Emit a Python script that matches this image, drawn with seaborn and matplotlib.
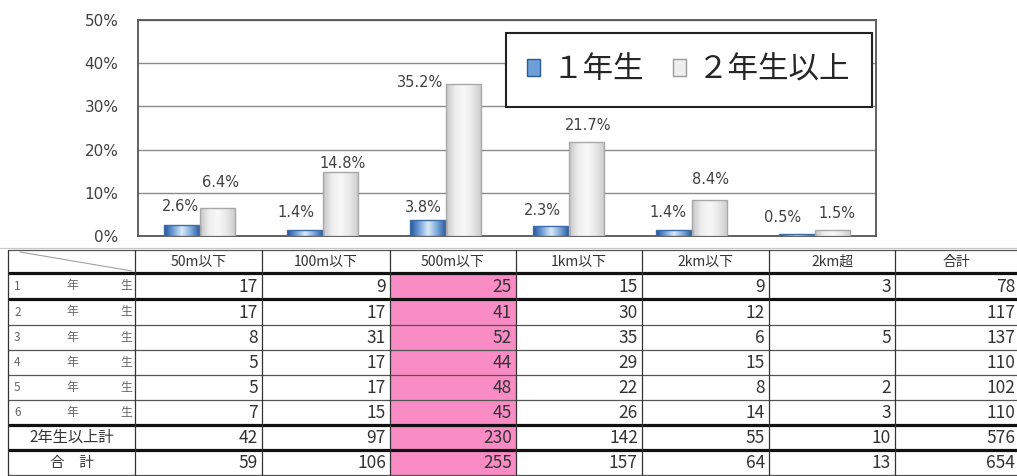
import numpy as np
import pandas as pd
import matplotlib
matplotlib.use("Agg")
import matplotlib.pyplot as plt
import seaborn as sns
from matplotlib.patches import Patch, Rectangle
from matplotlib.colors import LinearSegmentedColormap

# ---------------- data ----------------
categories = ["50m以下", "100m以下", "500m以下", "1km以下", "2km以下", "2km超"]
series_names = ["１年生", "２年生以上"]
pct_grade1 = [2.6, 1.4, 3.8, 2.3, 1.4, 0.5]
pct_grade2plus = [6.4, 14.8, 35.2, 21.7, 8.4, 1.5]
y_ticks = [0, 10, 20, 30, 40, 50]

table_columns = ["50m以下", "100m以下", "500m以下", "1km以下", "2km以下", "2km超", "合計"]
row_labels = ["1年生", "2年生", "3年生", "4年生", "5年生", "6年生", "2年生以上計", "合計"]
row_g1 = [17, 9, 25, 15, 9, 3, 78]
row_g2 = [17, 17, 41, 30, 12, None, 117]
row_g3 = [8, 31, 52, 35, 6, 5, 137]
row_g4 = [5, 17, 44, 29, 15, None, 110]
row_g5 = [5, 17, 48, 22, 8, 2, 102]
row_g6 = [7, 15, 45, 26, 14, 3, 110]
row_g2plus = [42, 97, 230, 142, 55, 10, 576]
row_total = [59, 106, 255, 157, 64, 13, 654]
table_rows = [row_g1, row_g2, row_g3, row_g4, row_g5, row_g6, row_g2plus, row_total]

# ---------------- style ----------------
sns.set_theme(style="white")
plt.rcParams["font.family"] = ["DejaVu Sans", "Noto Sans CJK JP"]
JP = ["Noto Sans CJK JP", "DejaVu Sans"]

W, H = 1017, 476
fig = plt.figure(figsize=(W / 100, H / 100), dpi=100)
fig.patch.set_facecolor("white")

# table overlay axes (pixel coordinates)
tax = fig.add_axes([0, 0, 1, 1])
tax.set_xlim(0, W)
tax.set_ylim(H, 0)
tax.axis("off")
tax.patch.set_alpha(0)

# chart axes
L, R, T, B = 138, 876, 20, 236
ax = fig.add_axes([L / W, 1 - B / H, (R - L) / W, (B - T) / H])

df = pd.DataFrame({
    "category": categories * 2,
    "series": [series_names[0]] * len(categories) + [series_names[1]] * len(categories),
    "pct": pct_grade1 + pct_grade2plus,
})
blue_mid = "#5C8FCC"
gray_mid = "#E4E4E4"
sns.barplot(data=df, x="category", y="pct", hue="series", hue_order=series_names,
            order=categories, palette=[blue_mid, gray_mid], width=0.585, gap=0,
            saturation=1, legend=False, ax=ax, zorder=3)

cmaps = [
    LinearSegmentedColormap.from_list("b", ["#24549A", "#6E9FD8", "#DCEBF8", "#7FABDD", "#2A5C9E"]),
    LinearSegmentedColormap.from_list("g", ["#C6C6C6", "#EEEEEE", "#F8F8F8", "#E8E8E8", "#CBCBCB"]),
]
edge_cols = ["#3E6CA8", "#A8A8A8"]
grad = np.linspace(0, 1, 64).reshape(1, -1)
for ci, cont in enumerate(ax.containers):
    for p in cont.patches:
        x0, w, h = p.get_x(), p.get_width(), p.get_height()
        im = ax.imshow(grad, cmap=cmaps[ci], extent=[x0, x0 + w, 0, h], aspect="auto",
                       zorder=3.2, interpolation="bicubic")
        im.set_clip_path(p)
        p.set_facecolor("none")
        p.set_edgecolor(edge_cols[ci])
        p.set_linewidth(1.0)
        p.set_zorder(3.5)

ax.set_xlim(-0.5, len(categories) - 0.5)
ax.set_ylim(0, 50)
ax.set_yticks(y_ticks)
ax.set_yticklabels([f"{t}%" for t in y_ticks], fontsize=11, color="#404040")
ax.tick_params(axis="y", length=0, pad=14)
ax.set_xticks([])
ax.set_xlabel("")
ax.set_ylabel("")
ax.yaxis.grid(True, color="#8A8A8A", linewidth=1.0, zorder=0)
ax.set_axisbelow(True)
for s in ax.spines.values():
    s.set_visible(True)
    s.set_color("#555555")
    s.set_linewidth(1.3)

# data labels (offsets in pixels relative to bar-top centre)
label_offsets = [
    [(-1, 18), (-9, 17), (-4, 12), (-8, 16), (-6, 17), (-14, 16)],
    [(3, 26), (2, 9), (-43, 1), (2, 17), (1, 20), (4, 16)],
]
for ci, cont in enumerate(ax.containers):
    vals = [pct_grade1, pct_grade2plus][ci]
    for j, p in enumerate(cont.patches):
        cx = p.get_x() + p.get_width() / 2
        dx, dy = label_offsets[ci][j]
        ax.annotate(f"{vals[j]}%", xy=(cx, vals[j]), xytext=(dx, dy),
                    textcoords="offset pixels", ha="center", va="center",
                    fontsize=10.5, color="#404040", zorder=5)

# legend
handles = [Patch(facecolor="#6E9FD8", edgecolor="#2A5C9E", linewidth=1.0),
           Patch(facecolor="#EDEDED", edgecolor="#9A9A9A", linewidth=1.0)]
leg = ax.legend(handles, series_names, ncol=2, loc="upper left",
                bbox_to_anchor=(506 / W, 1 - 33 / H), bbox_transform=fig.transFigure,
                frameon=True, fancybox=False, framealpha=1, edgecolor="#222222",
                prop={"family": JP, "size": 22}, handlelength=0.42, handleheight=0.5,
                handletextpad=0.4, columnspacing=0.95, borderpad=0.7, borderaxespad=0)
leg.get_frame().set_linewidth(1.5)
leg.set_zorder(10)

# ---------------- table ----------------
col_x = [8, 135, 262, 390, 516, 642, 769, 895, 1020]
row_y = [250, 273, 299, 325, 350, 375, 400, 425, 450, 475]
pink_col = 3

tax.add_patch(Rectangle((col_x[pink_col], row_y[1]), col_x[pink_col + 1] - col_x[pink_col],
                        row_y[-1] - row_y[1], facecolor="#F98CC4", edgecolor="none", zorder=1))
tax.plot([0, W], [247.5, 247.5], color="#C8C8C8", lw=0.8, zorder=2)

thick_rows = {1, 2, 7, 8}
for i, y in enumerate(row_y):
    if i in thick_rows:
        tax.plot([col_x[0], col_x[-1]], [y, y], color="#111111", lw=2.3, zorder=3,
                 solid_capstyle="butt")
    else:
        tax.plot([col_x[0], col_x[-1]], [y, y], color="#555555", lw=0.9, zorder=3)
for x in col_x:
    tax.plot([x, x], [row_y[0], row_y[-1]], color="#333333", lw=0.9, zorder=3)

# diagonal in corner cell
tax.plot([20, 132], [252, 271], color="#A0A0A0", lw=0.8, zorder=3)

# header labels
for j, name in enumerate(table_columns):
    tax.text((col_x[j + 1] + min(col_x[j + 2], 1017)) / 2, (row_y[0] + row_y[1]) / 2 + 0.5, name,
             ha="center", va="center", fontsize=10, color="#333333", family=JP, zorder=4)

# row labels and values
for i, (lab, vals) in enumerate(zip(row_labels, table_rows)):
    yc = (row_y[i + 1] + row_y[i + 2]) / 2
    if i < 6:
        tax.text(14, yc, lab[0], ha="left", va="center", fontsize=8.5, color="#666666",
                 family=JP, zorder=4)
        tax.text(72, yc, lab[1], ha="center", va="center", fontsize=8.5, color="#666666",
                 family=JP, zorder=4)
        tax.text(132, yc, lab[2], ha="right", va="center", fontsize=8.5, color="#666666",
                 family=JP, zorder=4)
    elif i == 6:
        tax.text(72, yc, lab, ha="center", va="center", fontsize=11, color="#333333",
                 family=JP, zorder=4)
    else:
        tax.text(72, yc, "　".join(lab), ha="center", va="center", fontsize=10.5,
                 color="#333333", family=JP, zorder=4)
    for j, v in enumerate(vals):
        if v is None:
            continue
        right = min(col_x[j + 2] - 4, 1015)
        tax.text(right, yc + 0.5, str(v), ha="right", va="center", fontsize=12.5,
                 color="#333333", family=JP, zorder=4)

fig.savefig("out.png", dpi=100, facecolor="white")
